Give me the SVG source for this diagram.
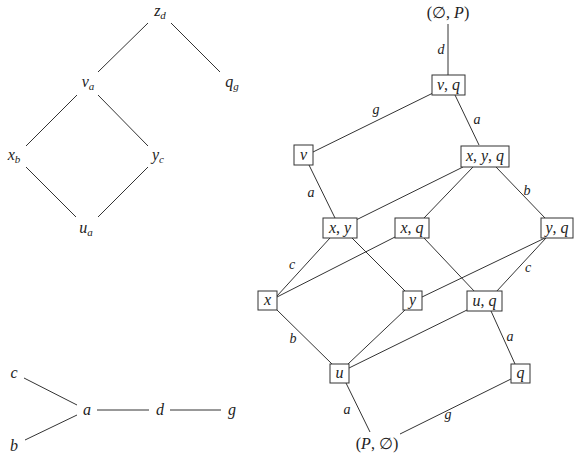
<svg xmlns="http://www.w3.org/2000/svg" width="578" height="462" viewBox="0 0 578 462">
<style>
text{font-family:"Liberation Serif","Times New Roman",serif;font-style:italic;font-size:16px;fill:#222;text-anchor:middle}
.s{font-size:11px}
.l{font-size:14px}
.u{font-style:normal}
line{stroke:#333;stroke-width:1}
rect{fill:#fff;stroke:#333;stroke-width:1}
</style>
<rect x="0" y="0" width="578" height="462" style="fill:#fff;stroke:none"/>
<g id="connectors">
<line x1="148" y1="23" x2="98" y2="72"/>
<line x1="171" y1="23" x2="220" y2="72"/>
<line x1="77" y1="95" x2="26" y2="146"/>
<line x1="98" y1="95" x2="148" y2="146"/>
<line x1="26" y1="167" x2="76" y2="217"/>
<line x1="148" y1="167" x2="98" y2="217"/>
<line x1="24" y1="378" x2="77" y2="405"/>
<line x1="25" y1="440" x2="77" y2="415"/>
<line x1="97" y1="410" x2="149" y2="410"/>
<line x1="170" y1="410" x2="221" y2="410"/>
<line x1="448" y1="24" x2="448" y2="75"/>
<line x1="433" y1="93" x2="313" y2="152"/>
<line x1="455" y1="95" x2="479" y2="145"/>
<line x1="309" y1="165" x2="335" y2="218"/>
<line x1="463" y1="167" x2="356" y2="220"/>
<line x1="473" y1="167" x2="424" y2="218"/>
<line x1="496" y1="167" x2="545" y2="218"/>
<line x1="330" y1="238" x2="277" y2="296"/>
<line x1="352" y1="238" x2="406" y2="292"/>
<line x1="395" y1="237" x2="277" y2="297"/>
<line x1="424" y1="238" x2="475" y2="292"/>
<line x1="545" y1="238" x2="422" y2="297"/>
<line x1="546" y1="238" x2="496" y2="292"/>
<line x1="277" y1="310" x2="332" y2="364"/>
<line x1="405" y1="310" x2="348" y2="364"/>
<line x1="467" y1="310" x2="349" y2="368"/>
<line x1="491" y1="311" x2="515" y2="364"/>
<line x1="346" y1="383" x2="370" y2="432"/>
<line x1="511" y1="379" x2="400" y2="434"/>
<text class="l" x="441" y="54">d</text>
<text class="l" x="376" y="114">g</text>
<text class="l" x="477" y="124">a</text>
<text class="l" x="311" y="197">a</text>
<text class="l" x="527" y="195">b</text>
<text class="l" x="292" y="269">c</text>
<text class="l" x="528" y="272">c</text>
<text class="l" x="293" y="343">b</text>
<text class="l" x="510" y="341">a</text>
<text class="l" x="347" y="414">a</text>
<text class="l" x="448" y="419">g</text>
</g>
<g id="n-zd"><text x="160" y="16">z<tspan class="s" dy="3">d</tspan></text></g>
<g id="n-va"><text x="88" y="87">v<tspan class="s" dy="3">a</tspan></text></g>
<g id="n-qg"><text x="232" y="87">q<tspan class="s" dy="3">g</tspan></text></g>
<g id="n-xb"><text x="14" y="160">x<tspan class="s" dy="3">b</tspan></text></g>
<g id="n-yc"><text x="158" y="160">y<tspan class="s" dy="3">c</tspan></text></g>
<g id="n-ua"><text x="86" y="233">u<tspan class="s" dy="3">a</tspan></text></g>
<g id="n-c"><text x="14" y="378">c</text></g>
<g id="n-a"><text x="87" y="415">a</text></g>
<g id="n-d"><text x="160" y="415">d</text></g>
<g id="n-g"><text x="232" y="415">g</text></g>
<g id="n-b"><text x="14" y="451">b</text></g>
<g id="n-top"><text x="448" y="18"><tspan class="u">(∅, </tspan>P<tspan class="u">)</tspan></text></g>
<g id="n-vq"><rect x="432" y="75" width="33" height="20"/><text x="448.5" y="90">v<tspan class="u">, </tspan>q</text></g>
<g id="n-v"><rect x="294" y="145" width="19" height="20"/><text x="303.5" y="160">v</text></g>
<g id="n-xyq"><rect x="461" y="146" width="48" height="21"/><text x="485" y="161">x<tspan class="u">, </tspan>y<tspan class="u">, </tspan>q</text></g>
<g id="n-xy"><rect x="323" y="218" width="34" height="20"/><text x="340" y="233">x<tspan class="u">, </tspan>y</text></g>
<g id="n-xq"><rect x="395" y="218" width="34" height="20"/><text x="412" y="233">x<tspan class="u">, </tspan>q</text></g>
<g id="n-yq"><rect x="541" y="218" width="32" height="20"/><text x="557" y="233">y<tspan class="u">, </tspan>q</text></g>
<g id="n-x"><rect x="258" y="291" width="19" height="19"/><text x="267.5" y="305">x</text></g>
<g id="n-y"><rect x="403" y="291" width="19" height="19"/><text x="412.5" y="305">y</text></g>
<g id="n-uq"><rect x="467" y="291" width="35" height="20"/><text x="484.5" y="306">u<tspan class="u">, </tspan>q</text></g>
<g id="n-u"><rect x="330" y="364" width="19" height="19"/><text x="339.5" y="378">u</text></g>
<g id="n-q"><rect x="511" y="364" width="19" height="19"/><text x="520.5" y="378">q</text></g>
<g id="n-bot"><text x="377" y="449"><tspan class="u">(</tspan>P<tspan class="u">, ∅)</tspan></text></g>
</svg>
